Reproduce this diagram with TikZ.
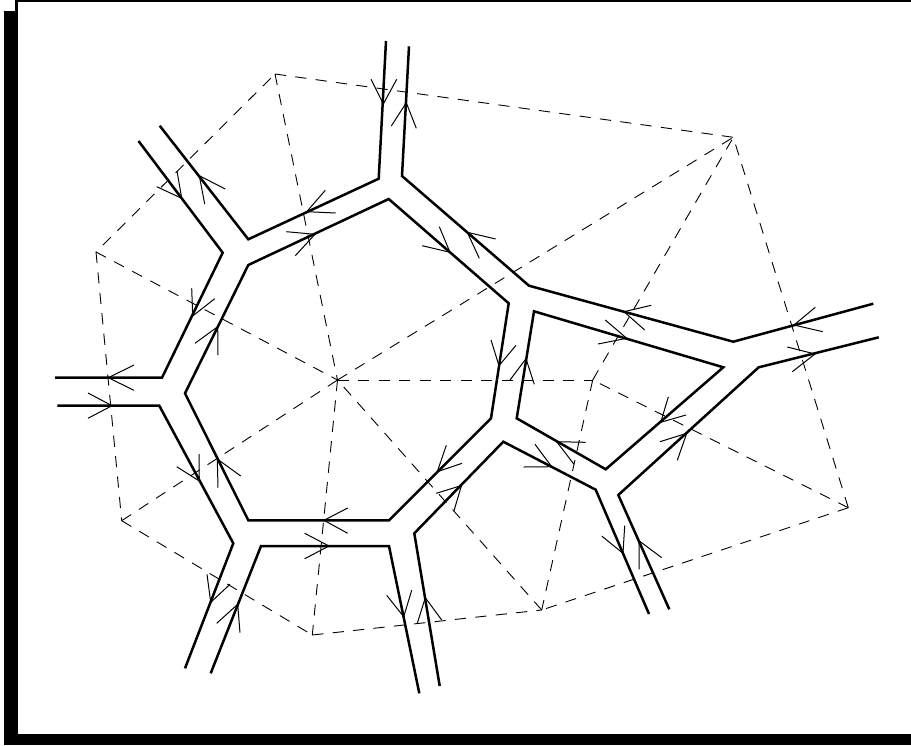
\documentclass[tikz,border=0pt]{standalone}
\tikzset{
  px/.style={x=1pt,y=-1pt},
  wall/.style={line width=2.5pt,line cap=butt,line join=miter},
  dual/.style={line width=0.9pt,dash pattern=on 11.2pt off 9.3pt},
  barb/.style={line width=1pt,line join=miter,line cap=butt},
}
\newcommand{\vmark}[3]{\draw[barb] (#2) -- (#1) -- (#3);}
\begin{document}
\begin{tikzpicture}[px]
\useasboundingbox (0,0) rectangle (911,745);
% frame
\fill[black] (15,0) rectangle (911,2);
\fill[black] (15,0) rectangle (18,11);
\fill[black] (4,11) rectangle (18,745);
\fill[black] (4,734) rectangle (911,745);
% dual vertices
\coordinate (A) at (275,74);
\coordinate (B) at (96,252);
\coordinate (C) at (337.5,380);
\coordinate (X) at (733.3,137.3);
\coordinate (P) at (592.7,380);
\coordinate (Q) at (848.3,507.7);
\coordinate (R) at (541.7,610);
\coordinate (S) at (312.3,635);
\coordinate (T) at (121.7,520.7);
% dual edges
\draw[dual,dash phase=14.5pt] (A) -- (B);
\draw[dual] (A) -- (X);
\draw[dual] (A) -- (C);
\draw[dual] (B) -- (C);
\draw[dual] (B) -- (T);
\draw[dual] (T) -- (C);
\draw[dual] (T) -- (S);
\draw[dual] (C) -- (S);
\draw[dual] (S) -- (R);
\draw[dual] (R) -- (C);
\draw[dual] (P) -- (R);
\draw[dual] (Q) -- (R);
\draw[dual] (C) -- (P);
\draw[dual] (P) -- (X);
\draw[dual] (Q) -- (P);
\draw[dual] (C) -- (X);
\draw[dual] (Q) -- (X);
% walls
\draw[wall] (138.5,141) -- (222.7,252.7) -- (162,377.7) -- (55,377.7);
\draw[wall] (159.7,125.7) -- (248.3,239.3) -- (378.7,178.7) -- (386,41);
\draw[wall] (409,46.3) -- (402,176) -- (529,285.7) -- (733.3,341.7) -- (873.3,303.7);
\draw[wall] (388.7,199) -- (248.3,265) -- (185,393.3) -- (248.3,520.3) -- (389,520.3) -- (491,418.3) -- (508.7,303.3) -- cycle;
\draw[wall] (534,311.3) -- (723.3,367.3) -- (605.7,469.3) -- (516.7,418.3) -- cycle;
\draw[wall] (878.7,337.3) -- (758.7,367.3) -- (618.3,495) -- (669.3,609.3);
\draw[wall] (649,614) -- (595.7,489.7) -- (503.3,441.7) -- (414.3,533.3) -- (439.7,686);
\draw[wall] (419.3,693.3) -- (389,546) -- (261,546) -- (210.7,673.3);
\draw[wall] (185,668.3) -- (233.3,543.3) -- (159.3,405.7) -- (57.3,405.7);
% arrowheads
\vmark{181.7,198.3}{156.7,186.7}{177,171}
\vmark{199.3,175.7}{225.3,189}{204.7,204}
\vmark{383.3,104}{371,79.3}{396.7,79.3}
\vmark{406.3,102.7}{391.3,126}{416.3,128.3}
\vmark{306.7,211.7}{325.3,190.3}{335.7,213}
\vmark{315,234.3}{286.3,231.7}{295.3,255.7}
\vmark{450,252.3}{422.3,245.7}{439.3,226.7}
\vmark{192.7,316}{191.7,288.3}{214.7,298.7}
\vmark{217.7,326.7}{195,343.3}{218,355}
\vmark{467.3,232.3}{495.7,239}{479.3,258.3}
\vmark{624,311.7}{651.3,305.3}{644.7,330}
\vmark{626.7,338.3}{605.3,320}{598,344}
\vmark{794,325}{815.3,307.3}{822.7,331.7}
\vmark{815,354}{787.3,347}{792.3,371.7}
\vmark{499,365.7}{491,340}{516,345.3}
\vmark{526,358.7}{510,380}{534.3,384.3}
\vmark{108.3,377.7}{134,365}{134,390.3}
\vmark{112,405.7}{88,393}{88,418.3}
\vmark{199.3,481}{176.7,466.7}{199,454}
\vmark{217.3,459}{240.7,476}{218,487.7}
\vmark{324,520.3}{347.7,508}{347.7,533.3}
\vmark{329,546}{304.7,533.3}{304.7,558.7}
\vmark{210.7,602.3}{207,574.3}{230,584.3}
\vmark{237.7,604.3}{216.7,623.3}{240,632.7}
\vmark{403.7,616.7}{386.7,595.3}{411.7,590.3}
\vmark{425.3,597.7}{417.3,623.3}{441.7,620}
\vmark{437.3,471.7}{446.3,445.3}{462,463.3}
\vmark{461.5,485.5}{436.3,493.3}{454,510.7}
\vmark{556.7,441.7}{585.7,442.3}{574,464.3}
\vmark{551.7,466.7}{523.7,467}{535,444.3}
\vmark{660.7,422.3}{668.3,397}{686,415}
\vmark{686.7,433.3}{660,441.7}{677.3,460.3}
\vmark{623,553.3}{601.7,536}{624.7,525.7}
\vmark{639,540.7}{661.7,557.7}{639,569.3}
\end{tikzpicture}
\end{document}
